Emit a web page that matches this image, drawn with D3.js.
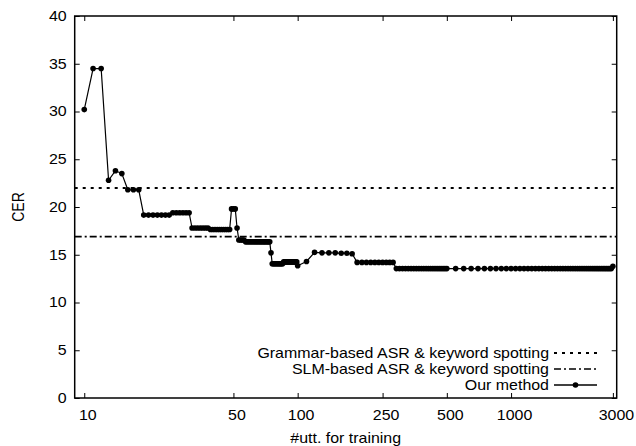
<!DOCTYPE html>
<html>
<head>
<style>
html, body {
    margin: 0;
    padding: 0;
    background: #fff;
    overflow: hidden;
}
svg text {
    font-family: "Liberation Sans", Arial, sans-serif;
    font-size: 14px;
    fill: #000;
}
</style>
</head>
<body>
<script src="https://d3js.org/d3.v7.min.js"></script>
<script>
const [width, height] = [636, 446];
const margin = {top: 16, right: 19.3, bottom: 48, left: 74.7};
const sx = 1.14; // glyphs in the source are stretched horizontally

const xTicks = [10, 50, 100, 250, 500, 1000, 3000];
const yTicks = [0, 5, 10, 15, 20, 25, 30, 35, 40];

const grammarCER = 22.0;
const slmCER = 16.9;

const utts = [
    10, 11, 12, 13, 14, 15, 16, 17, 18, 19,
    20, 21, 22, 23, 24, 25, 26, 27, 28, 29,
    30, 31, 32, 33, 34, 35, 36, 37, 38, 39,
    40, 41, 42, 43, 44, 45, 46, 47, 48, 49,
    50, 51, 52, 53, 54, 55, 56, 57, 58, 59,
    60, 61, 62, 63, 64, 65, 66, 67, 68, 69,
    70, 71, 72, 73, 74, 75, 76, 77, 78, 79,
    80, 81, 82, 83, 84, 85, 86, 87, 88, 89,
    90, 91, 92, 93, 94, 95, 96, 97, 98, 99,
    100, 110, 120, 130, 140, 150, 160, 170, 180, 190,
    200, 210, 220, 230, 240, 250, 260, 270, 280, 290,
    300, 310, 320, 330, 340, 350, 360, 370, 380, 390,
    400, 410, 420, 430, 440, 450, 460, 470, 480, 490,
    500, 550, 600, 650, 700, 750, 800, 850, 900, 950,
    1000, 1050, 1100, 1150, 1200, 1250, 1300, 1350, 1400, 1450,
    1500, 1550, 1600, 1650, 1700, 1750, 1800, 1850, 1900, 1950,
    2000, 2050, 2100, 2150, 2200, 2250, 2300, 2350, 2400, 2450,
    2500, 2550, 2600, 2650, 2700, 2750, 2800, 2850, 2900, 2950,
    3000
];

const ourCER = [
    30.2, 34.5, 34.5, 22.8, 23.8, 23.5, 21.8, 21.8, 21.8, 19.15,
    19.15, 19.15, 19.15, 19.15, 19.15, 19.15, 19.4, 19.4, 19.4, 19.4,
    19.4, 19.4, 17.8, 17.8, 17.8, 17.8, 17.8, 17.8, 17.8, 17.65,
    17.65, 17.65, 17.65, 17.65, 17.65, 17.65, 17.65, 17.65, 17.65, 19.8,
    19.8, 19.8, 17.8, 16.55, 16.55, 16.55, 16.55, 16.35, 16.35, 16.35,
    16.35, 16.35, 16.35, 16.35, 16.35, 16.35, 16.35, 16.35, 16.35, 16.35,
    16.35, 16.35, 16.35, 16.35, 16.35, 15.2, 14.05, 14.05, 14.05, 14.05,
    14.05, 14.05, 14.05, 14.05, 14.05, 14.05, 14.25, 14.25, 14.25, 14.25,
    14.25, 14.25, 14.25, 14.25, 14.25, 14.25, 14.25, 14.25, 14.25, 14.25,
    13.85, 14.3, 15.25, 15.2, 15.2, 15.2, 15.15, 15.15, 15.1, 14.2,
    14.2, 14.2, 14.2, 14.2, 14.2, 14.2, 14.2, 14.2, 14.2, 13.55,
    13.55, 13.55, 13.55, 13.55, 13.55, 13.55, 13.55, 13.55, 13.55, 13.55,
    13.55, 13.55, 13.55, 13.55, 13.55, 13.55, 13.55, 13.55, 13.55, 13.55,
    13.55, 13.55, 13.55, 13.55, 13.55, 13.55, 13.55, 13.55, 13.55, 13.55,
    13.55, 13.55, 13.55, 13.55, 13.55, 13.55, 13.55, 13.55, 13.55, 13.55,
    13.55, 13.55, 13.55, 13.55, 13.55, 13.55, 13.55, 13.55, 13.55, 13.55,
    13.55, 13.55, 13.55, 13.55, 13.55, 13.55, 13.55, 13.55, 13.55, 13.55,
    13.55, 13.55, 13.55, 13.55, 13.55, 13.55, 13.55, 13.55, 13.55, 13.55,
    13.8
];

const legendLabels = [
    "Grammar-based ASR & keyword spotting",
    "SLM-based ASR & keyword spotting",
    "Our method"
];

const data = utts.map((u, i) => ({u, cer: ourCER[i]}));

const x = d3.scaleLog()
    .domain([9.02, 3126])
    .range([margin.left, width - margin.right]);

const y = d3.scaleLinear()
    .domain([0, 40])
    .range([height - margin.bottom, margin.top]);

const svg = d3.select("body").append("svg")
    .attr("width", width)
    .attr("height", height);

// axes (ticks point inward, like gnuplot)
const gx = svg.append("g")
    .attr("transform", `translate(0,${y(0)})`)
    .call(d3.axisBottom(x)
        .tickValues(xTicks)
        .tickFormat(d3.format("d"))
        .tickSizeInner(-5)
        .tickSizeOuter(0)
        .tickPadding(12));
gx.selectAll("text")
    .attr("x", 3 / sx)
    .attr("transform", `scale(${sx},1)`);

svg.append("g")
    .attr("transform", `translate(0,${y(40)})`)
    .call(d3.axisTop(x)
        .tickValues(xTicks)
        .tickFormat("")
        .tickSizeInner(-5)
        .tickSizeOuter(0));

const gy = svg.append("g")
    .attr("transform", `translate(${x.range()[0]},0)`)
    .call(d3.axisLeft(y)
        .tickValues(yTicks)
        .tickSizeInner(-5)
        .tickSizeOuter(0));
gy.selectAll("text")
    .attr("x", -8 / sx)
    .attr("transform", `scale(${sx},1)`);

svg.append("g")
    .attr("transform", `translate(${x.range()[1]},0)`)
    .call(d3.axisRight(y)
        .tickValues(yTicks)
        .tickFormat("")
        .tickSizeInner(-5)
        .tickSizeOuter(0));

svg.selectAll(".domain").remove();
svg.selectAll(".tick line").attr("stroke", "#000");
svg.selectAll(".tick text").style("font-size", "14px").attr("fill", "#000");

// frame
svg.append("rect")
    .attr("x", x.range()[0])
    .attr("y", y(40))
    .attr("width", x.range()[1] - x.range()[0])
    .attr("height", y(0) - y(40))
    .attr("fill", "none")
    .attr("stroke", "#000")
    .attr("stroke-width", 1.5);

// axis titles
svg.append("text")
    .attr("transform", `translate(${(x.range()[0] + x.range()[1]) / 2},443) scale(${sx},1)`)
    .attr("text-anchor", "middle")
    .text("#utt. for training");

svg.append("text")
    .attr("transform", `translate(24,${(y(0) + y(40)) / 2}) rotate(-90) scale(1,${sx})`)
    .attr("text-anchor", "middle")
    .text("CER");

// baselines
const dotted = "3,5";
const dashDot = "7,3,2,3";

svg.append("line")
    .attr("x1", x.range()[0]).attr("x2", x.range()[1])
    .attr("y1", y(grammarCER)).attr("y2", y(grammarCER))
    .attr("stroke", "#000")
    .attr("stroke-width", 2)
    .attr("stroke-dasharray", dotted);

svg.append("line")
    .attr("x1", x.range()[0]).attr("x2", x.range()[1])
    .attr("y1", y(slmCER)).attr("y2", y(slmCER))
    .attr("stroke", "#000")
    .attr("stroke-width", 1.6)
    .attr("stroke-dasharray", dashDot);

// our method
const line = d3.line()
    .x(d => x(d.u))
    .y(d => y(d.cer));

svg.append("path")
    .datum(data)
    .attr("fill", "none")
    .attr("stroke", "#000")
    .attr("stroke-width", 1.2)
    .attr("d", line);

svg.append("g")
    .selectAll("circle")
    .data(data)
    .join("circle")
        .attr("cx", d => x(d.u))
        .attr("cy", d => y(d.cer))
        .attr("r", 2.8)
        .attr("fill", "#000");

// legend
const legend = svg.append("g");
const rowY = [353, 369, 385];
const styles = [dotted, dashDot, null];

legendLabels.forEach((label, i) => {
    legend.append("text")
        .attr("transform", `translate(549,${rowY[i] + 5}) scale(${sx},1)`)
        .attr("text-anchor", "end")
        .text(label);

    legend.append("line")
        .attr("x1", 554).attr("x2", 597)
        .attr("y1", rowY[i]).attr("y2", rowY[i])
        .attr("stroke", "#000")
        .attr("stroke-width", styles[i] === dotted ? 2 : 1.4)
        .attr("stroke-dasharray", styles[i]);

    if (styles[i] === null) {
        legend.append("circle")
            .attr("cx", 575.5)
            .attr("cy", rowY[i])
            .attr("r", 2.8)
            .attr("fill", "#000");
    }
});
</script>
</body>
</html>
